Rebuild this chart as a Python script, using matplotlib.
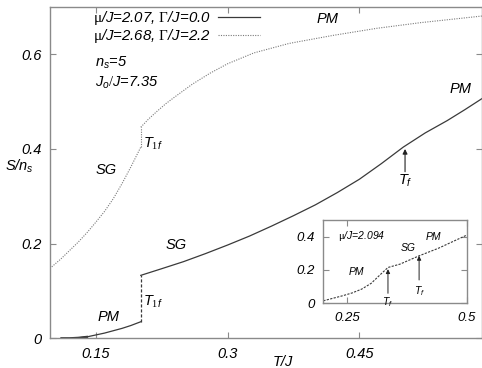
import matplotlib
matplotlib.use("Agg")
import matplotlib.pyplot as plt

plt.rcParams["font.family"] = ["Liberation Sans", "DejaVu Sans"]
plt.rcParams["mathtext.fontset"] = "custom"
plt.rcParams["mathtext.rm"] = "Liberation Serif:style=normal"
plt.rcParams["mathtext.it"] = "Liberation Sans:style=italic"
plt.rcParams["mathtext.sf"] = "Liberation Sans:style=italic"

# Entropy per spin vs temperature, mu/J = 2.07, Gamma/J = 0.0
t_solid_low = [0.111, 0.12, 0.13, 0.14, 0.15, 0.16, 0.17, 0.18, 0.19, 0.2013]
s_solid_low = [0.0, 0.0, 0.001, 0.003, 0.007, 0.011, 0.016, 0.021, 0.027, 0.035]
t_solid_high = [0.2013, 0.225, 0.25, 0.275, 0.30, 0.325, 0.35, 0.375, 0.40,
                0.425, 0.45, 0.475, 0.50, 0.525, 0.55, 0.57, 0.59]
s_solid_high = [0.133, 0.147, 0.162, 0.179, 0.197, 0.216, 0.237, 0.259, 0.282,
                0.308, 0.336, 0.369, 0.404, 0.434, 0.460, 0.483, 0.507]

# mu/J = 2.68, Gamma/J = 2.2
t_dot_low = [0.10, 0.11, 0.12, 0.13, 0.14, 0.15, 0.16, 0.17, 0.18, 0.19, 0.2013]
s_dot_low = [0.151, 0.167, 0.185, 0.203, 0.223, 0.245, 0.268, 0.295, 0.327, 0.362, 0.404]
t_dot_high = [0.2013, 0.21, 0.22, 0.23, 0.24, 0.26, 0.28, 0.30, 0.33, 0.37,
              0.42, 0.47, 0.52, 0.56, 0.59]
s_dot_high = [0.446, 0.463, 0.480, 0.496, 0.510, 0.537, 0.560, 0.580, 0.603, 0.623,
              0.640, 0.655, 0.667, 0.675, 0.681]

# inset: mu/J = 2.094
t_inset = [0.20, 0.22, 0.24, 0.26, 0.28, 0.30, 0.32, 0.335, 0.36, 0.40, 0.44, 0.47, 0.50]
s_inset = [0.015, 0.030, 0.045, 0.062, 0.085, 0.120, 0.175, 0.215, 0.235, 0.285, 0.330, 0.370, 0.410]

main_xticks = [0.15, 0.3, 0.45]
main_xticklabels = ["0.15", "0.3", "0.45"]
main_yticks = [0, 0.2, 0.4, 0.6]
main_yticklabels = ["0", "0.2", "0.4", "0.6"]
inset_xticks = [0.25, 0.5]
inset_xticklabels = ["0.25", "0.5"]
inset_yticks = [0, 0.2, 0.4]
inset_yticklabels = ["0", "0.2", "0.4"]

t_f_main = 0.502
t_f_inset = [0.335, 0.40]

SPINE = "#8a8a8a"
SOLID = "#3a3a3a"
DOT = "#7a7a7a"

fig = plt.figure(figsize=(4.82, 3.68), dpi=100)
ax = fig.add_axes([50 / 482, 1 - 338.3 / 368, 431.5 / 482, 331.3 / 368])

ax.plot(t_solid_low, s_solid_low, color=SOLID, lw=0.9,
        label=r"$\mathrm{\mu}$/J=2.07, $\mathrm{\Gamma}$/J=0.0")
ax.plot(t_solid_high, s_solid_high, color=SOLID, lw=0.9)
ax.plot([t_solid_low[-1], t_solid_high[0]], [s_solid_low[-1], s_solid_high[0]],
        color=SOLID, lw=0.9, ls=(0, (2.5, 1.5)))
ax.plot(t_solid_low[:4], s_solid_low[:4], color=SOLID, lw=1.6)

dot_style = (0, (1, 1.2))
ax.plot(t_dot_low, s_dot_low, color=DOT, lw=0.8, ls=dot_style,
        label=r"$\mathrm{\mu}$/J=2.68, $\mathrm{\Gamma}$/J=2.2")
ax.plot(t_dot_high, s_dot_high, color=DOT, lw=0.8, ls=dot_style)
ax.plot([t_dot_low[-1], t_dot_high[0]], [s_dot_low[-1], s_dot_high[0]],
        color=DOT, lw=0.8, ls=dot_style)

ax.set_xlim(0.098, 0.589)
ax.set_ylim(0, 0.7)
ax.set_xticks(main_xticks)
ax.set_xticklabels(main_xticklabels, style="italic")
ax.set_yticks(main_yticks)
ax.set_yticklabels(main_yticklabels, style="italic")
ax.tick_params(direction="in", length=4, width=0.8, color=SPINE, labelsize=10.5,
               top=True, right=True, pad=6)
for sp in ax.spines.values():
    sp.set_color(SPINE)
    sp.set_linewidth(1.0)

leg = ax.legend(loc="upper left", bbox_to_anchor=(0.1, 0.993), frameon=False,
                markerfirst=False, handlelength=2.8,
                handletextpad=0.5, labelspacing=0.0, borderpad=0.0,
                borderaxespad=0.0, prop=dict(style="italic", size=10.8))

txt = dict(fontsize=10.5, style="italic")
ax.text(0.104, 0.832, "$n_s$=5", transform=ax.transAxes, va="center", **txt)
ax.text(0.104, 0.770, "$J_o/J$=7.35", transform=ax.transAxes, va="center", **txt)

# phase labels
ax.text(0.414, 0.675, "PM", ha="center", va="center", **txt)
ax.text(0.565, 0.527, "PM", ha="center", va="center", **txt)
ax.text(0.162, 0.355, "SG", ha="center", va="center", **txt)
ax.text(0.204, 0.412, "$T_{1f}$", ha="left", va="center", **txt)
ax.text(0.241, 0.197, "SG", ha="center", va="center", **txt)
ax.text(0.204, 0.077, "$T_{1f}$", ha="left", va="center", **txt)
ax.text(0.165, 0.045, "PM", ha="center", va="center", **txt)

ax.annotate("", xy=(t_f_main, 0.400), xytext=(t_f_main, 0.352),
            arrowprops=dict(arrowstyle="-|>", color="#222", lw=0.8,
                            mutation_scale=7, shrinkA=0, shrinkB=0))
ax.text(t_f_main, 0.333, "$T_f$", ha="center", va="center", **txt)

fig.text(283 / 482, 1 - 362 / 368, "T/J", ha="center", va="center",
         fontsize=10.5, style="italic")
fig.text(19 / 482, 1 - 166 / 368, "S/$n_s$", ha="center", va="center",
         fontsize=10.5, style="italic")

# inset
ins = fig.add_axes([323.3 / 482, 1 - 303.3 / 368, 143.7 / 482, 83.3 / 368])
ins.plot(t_inset, s_inset, color=SOLID, lw=0.8, ls=(0, (2, 1.2)))
ins.set_xlim(0.2, 0.5)
ins.set_ylim(0, 0.5)
ins.set_xticks(inset_xticks)
ins.set_xticklabels(inset_xticklabels, style="italic")
ins.set_yticks(inset_yticks)
ins.set_yticklabels(inset_yticklabels, style="italic")
ins.tick_params(direction="in", length=4, width=0.8, color=SPINE, labelsize=9.5,
                top=True, right=True, pad=6)
for sp in ins.spines.values():
    sp.set_color(SPINE)
    sp.set_linewidth(1.0)

itxt = dict(fontsize=7.5, style="italic")
ins.text(0.23, 0.405, r"$\mathrm{\mu}$/J=2.094", ha="left", va="center", **itxt)
ins.text(0.43, 0.395, "PM", ha="center", va="center", **itxt)
ins.text(0.377, 0.33, "SG", ha="center", va="center", **itxt)
ins.text(0.27, 0.19, "PM", ha="center", va="center", **itxt)
for tf, top, base, lab in [(t_f_inset[0], 0.205, 0.06, 0.008), (t_f_inset[1], 0.285, 0.14, 0.074)]:
    ins.annotate("", xy=(tf, top), xytext=(tf, base),
                 arrowprops=dict(arrowstyle="-|>", color="#222", lw=0.7,
                                 mutation_scale=6, shrinkA=0, shrinkB=0))
    ins.text(tf, lab, "$T_f$", ha="center", va="center", **itxt)

fig.savefig("out.png", dpi=100)
